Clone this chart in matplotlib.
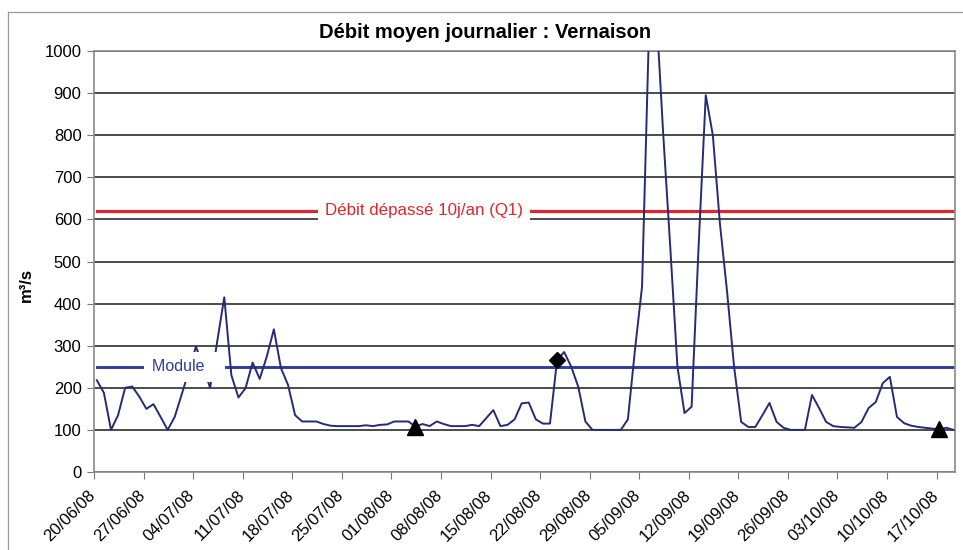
import matplotlib
matplotlib.use("Agg")
import matplotlib.pyplot as plt
import matplotlib.transforms as mtrans
import pandas as pd
from matplotlib.lines import Line2D

plt.rcParams['font.family'] = ['Liberation Sans', 'DejaVu Sans']

# daily mean flow at Vernaison (m3/s), one value per day from 20/06/08
start_date = '2008-06-20'
flow = [218, 188, 100, 135, 200, 203, 179, 150, 161, 131,
        100, 131, 185, 240, 298, 250, 200, 310, 415, 230,
        177, 199, 260, 221, 274, 339, 247, 207, 135, 120,
        120, 120, 114, 110, 109, 109, 109, 109, 111, 109,
        112, 113, 120, 120, 120, 108, 114, 109, 120, 114,
        109, 109, 109, 112, 109, 128, 147, 109, 112, 125,
        163, 165, 125, 115, 115, 266, 285, 250, 202, 120,
        100, 100, 100, 100, 100, 125, 290, 440, 1060, 1100,
        800, 530, 250, 140, 155, 540, 895, 800, 590, 430,
        250, 119, 107, 107, 135, 164, 119, 105, 100, 100,
        100, 183, 152, 119, 109, 107, 106, 105, 119, 152,
        166, 211, 226, 131, 116, 110, 107, 105, 103, 102,
        105, 100]

# reference levels
q1_level = 620
module_level = 250

# marked days (index into flow)
triangle_days = [45, 119]
diamond_days = [65]

y_ticks = list(range(0, 1001, 100))

days = list(range(len(flow)))
dates = pd.date_range(start_date, periods=len(flow), freq='D')
tick_days = days[::7]
tick_labels = [dates[d].strftime('%d/%m/%y') for d in tick_days]

SERIES_COL = '#262b78'
MODULE_COL = '#2f3b9e'
Q1_COL = '#e0262c'
TICK_SHIFT = -0.4   # excel puts the week ticks slightly left of the points

fig = plt.figure(figsize=(9.63, 5.5), dpi=100)
ax = fig.add_axes([94 / 963, 78 / 550, 861 / 963, 421 / 550])

# chart area border (top / left only visible in the crop)
top_y = 1 - 12 / 550
left_x = 8 / 963
fig.add_artist(Line2D([left_x, 1], [top_y, top_y], transform=fig.transFigure,
                      color='#9a9a9a', lw=0.9))
fig.add_artist(Line2D([left_x, left_x], [0, top_y], transform=fig.transFigure,
                      color='#9a9a9a', lw=0.9))

ax.set_xlim(-0.4, 121.2)
ax.set_ylim(0, 1000)
ax.set_yticks(y_ticks)
ax.set_yticklabels([str(v) for v in y_ticks], fontsize=12)
ax.set_xticks([d + TICK_SHIFT for d in tick_days])
ax.set_xticklabels(tick_labels, rotation=45, ha='right',
                   rotation_mode='anchor', fontsize=12)
ax.tick_params(axis='both', direction='out', length=5, width=0.8,
               color='#777777', pad=4)
ax.tick_params(axis='x', pad=7)

# nudge the date labels a little left like the original
shift = mtrans.ScaledTranslation(-6 / 100, 1 / 100, fig.dpi_scale_trans)
for lab in ax.get_xticklabels():
    lab.set_transform(lab.get_transform() + shift)

ax.grid(axis='y', color='#1a1a1a', lw=1.1)
ax.set_axisbelow(True)
for s in ax.spines.values():
    s.set_color('#8a8a8a')
    s.set_linewidth(1.2)
    s.set_zorder(3)

# reference lines
ax.plot([days[0], days[-1]], [q1_level, q1_level], color=Q1_COL, lw=2.3, zorder=2)
ax.plot([days[0], days[-1]], [module_level, module_level], color=MODULE_COL,
        lw=2.1, zorder=2)

# flow series (clipped at top of axis like the original)
ax.plot(days, flow, color=SERIES_COL, lw=1.4, zorder=4)

ax.text(46.2, q1_level, 'Débit dépassé 10j/an (Q1)', color=Q1_COL,
        fontsize=12.2, ha='center', va='center', zorder=5,
        bbox=dict(facecolor='white', edgecolor='none', pad=5))
ax.text(12.4, module_level, 'Module   ', color=MODULE_COL, fontsize=11.5,
        ha='center', va='center', zorder=5,
        bbox=dict(facecolor='white', edgecolor='none', pad=5.5))

ax.plot(triangle_days, [flow[d] for d in triangle_days], linestyle='none',
        marker='^', color='black', markersize=11, zorder=6)
ax.plot(diamond_days, [flow[d] for d in diamond_days], linestyle='none',
        marker='D', color='black', markersize=8, zorder=6)

fig.text(0.504, 1 - 32 / 550, 'Débit moyen journalier : Vernaison',
         ha='center', va='center', fontsize=14.5, fontweight='bold')
fig.text(26 / 963, 1 - 285 / 550, 'm³/s', rotation=90, ha='center',
         va='center', fontsize=12, fontweight='bold')

fig.savefig('out.png', dpi=100, facecolor='white')
